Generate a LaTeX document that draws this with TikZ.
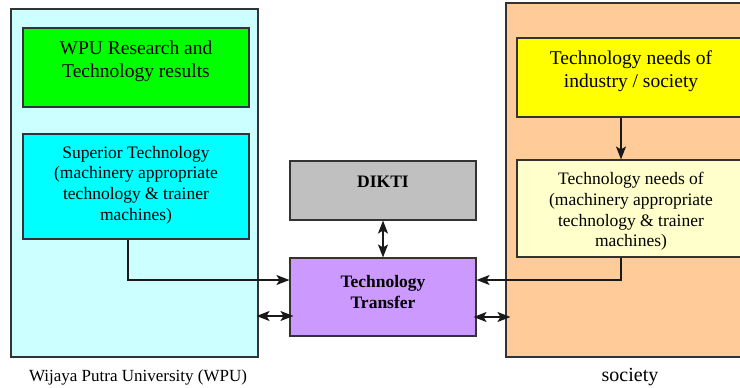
\documentclass[tikz,border=0pt]{standalone}
\usepackage{fontspec}
\setmainfont{Liberation Serif}
\usetikzlibrary{arrows.meta}
\definecolor{wpubg}{HTML}{CCFFFF}
\definecolor{socbg}{HTML}{FFCC99}
\definecolor{resgreen}{HTML}{00FF00}
\definecolor{supcyan}{HTML}{00FFFF}
\definecolor{diktigray}{HTML}{C0C0C0}
\definecolor{ttpurple}{HTML}{CC99FF}
\definecolor{needyellow}{HTML}{FFFF00}
\definecolor{needlight}{HTML}{FFFFCC}
\definecolor{edge}{HTML}{333333}
\tikzset{
  boxbase/.style={draw=edge, line width=1.1pt, rectangle, inner sep=0pt},
  bigtext/.style={font=\fontsize{19.5}{23}\selectfont, align=center, anchor=center},
  midtext/.style={font=\fontsize{17.5}{20.8}\selectfont, align=center, anchor=center},
  boldtext/.style={font=\fontsize{17.5}{21}\selectfont\bfseries, align=center, anchor=center},
  tipshape/.style={},
  arr/.style={line width=1.5pt, draw=black!90, -{Stealth[length=13pt,width=10pt,inset=3pt]}},
  dbl/.style={line width=1.5pt, draw=black!90, {Stealth[length=13pt,width=10pt,inset=3pt]}-{Stealth[length=13pt,width=10pt,inset=3pt]}},
}
\begin{document}
\begin{tikzpicture}[x=1pt,y=-1pt]
\useasboundingbox (0,0) rectangle (740,388);
\clip (0,0) rectangle (740,388);
\fill[white] (0,0) rectangle (740,388);
% outer containers
\node[boxbase, fill=wpubg, minimum width=247pt, minimum height=348pt] (wpu) at (134.5,183) {};
\node[boxbase, fill=socbg, minimum width=250pt, minimum height=354pt] (soc) at (631,180) {};
% left inner boxes
\node[boxbase, fill=resgreen, minimum width=226pt, minimum height=79pt,
  label={[bigtext, yshift=6pt]center:{WPU Research and\\Technology results}}] (res) at (136,67.5) {};
\node[boxbase, fill=supcyan, minimum width=226pt, minimum height=105pt,
  label={[midtext, yshift=1.5pt]center:{Superior Technology\\(machinery appropriate\\technology \& trainer\\machines)}}] (sup) at (136,186.5) {};
% middle
\node[boxbase, fill=diktigray, minimum width=186pt, minimum height=59pt,
  label={[boldtext, yshift=8.5pt]center:{DIKTI}}] (dikti) at (383,190.5) {};
\node[boxbase, fill=ttpurple, minimum width=186pt, minimum height=78pt,
  label={[boldtext, yshift=4.5pt]center:{Technology\\Transfer}}] (tt) at (383,297) {};
% right inner boxes
\node[boxbase, fill=needyellow, minimum width=228pt, minimum height=79pt,
  label={[bigtext, yshift=6.5pt]center:{Technology needs of\\industry / society}}] (need) at (631,77.5) {};
\node[boxbase, fill=needlight, minimum width=228pt, minimum height=97pt,
  label={[midtext, yshift=-3pt]center:{Technology needs of\\(machinery appropriate\\technology \& trainer\\machines)}}] (needm) at (631,208.5) {};
% captions
\node[font=\fontsize{17}{20}\selectfont] (wpulabel) at (138,377) {Wijaya Putra University (WPU)};
\node[font=\fontsize{20}{24}\selectfont] (soclabel) at (630,377) {society};
% connectors
\draw[arr] ([xshift=-10pt]need.south) -- ([xshift=-10pt]needm.north);
\draw[arr] ([xshift=-8pt]sup.south) |- ([yshift=17pt]tt.west);
\draw[arr] ([xshift=-10pt]needm.south) |- ([yshift=17pt]tt.east);
\draw[dbl] (dikti.south) -- (tt.north);
\draw[dbl] ([yshift=-19pt,xshift=-2pt]tt.west -| wpu.east) -- ([yshift=-19pt,xshift=4pt]tt.west);
\draw[dbl] ([yshift=-20pt,xshift=-3pt]tt.east) -- ([yshift=-20pt,xshift=5pt]tt.east -| soc.west);
\end{tikzpicture}
\end{document}
